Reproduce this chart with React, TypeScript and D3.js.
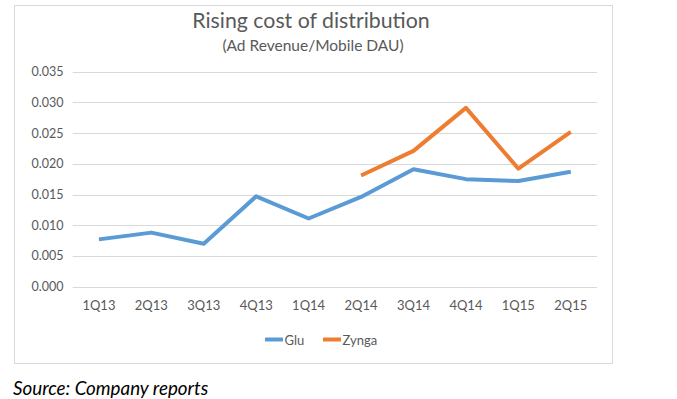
import React from "react";
import * as d3 from "d3";

const categories = ["1Q13", "2Q13", "3Q13", "4Q13", "1Q14", "2Q14", "3Q14", "4Q14", "1Q15", "2Q15"];
const gluValues: (number | null)[] = [0.0077, 0.0088, 0.0070, 0.0147, 0.0111, 0.0146, 0.0191, 0.0175, 0.0172, 0.0187];
const zyngaValues: (number | null)[] = [null, null, null, null, null, 0.0181, 0.0221, 0.0291, 0.0192, 0.0252];
const yTicks = [0, 0.005, 0.01, 0.015, 0.02, 0.025, 0.03, 0.035];
const seriesNames = ["Glu", "Zynga"];
const seriesColors = ["#5B9BD5", "#ED7D31"];

const FONT = "Lato, 'Open Sans', sans-serif";

export default function App() {
  const W = 677, H = 399;
  const left = 72.7, right = 597, top = 71.6, bottom = 286.7;
  const x = d3.scaleBand<string>().domain(categories).range([left, right]);
  const y = d3.scaleLinear().domain([0, 0.035]).range([bottom, top]);
  const line = d3
    .line<number | null>()
    .defined((d) => d !== null)
    .x((_, i) => (x(categories[i]) as number) + x.bandwidth() / 2)
    .y((d) => y(d as number));
  const series = [gluValues, zyngaValues];

  return (
    <svg width={W} height={H} style={{ position: "absolute", left: 0, top: 0, background: "#fff" }}>
      <rect x={14.5} y={5.5} width={598} height={358} fill="#fff" stroke="#D9D9D9" strokeWidth={1} />
      <text x={311} y={28} textAnchor="middle" fontFamily={FONT} fontSize={21.3} fill="#595959">
        Rising cost of distribution
      </text>
      <text x={313} y={50.5} textAnchor="middle" fontFamily={FONT} fontSize={15.5} fill="#595959">
        (Ad Revenue/Mobile DAU)
      </text>
      {yTicks.map((t) => (
        <g key={t}>
          <line x1={left} x2={right} y1={Math.round(y(t)) + 0.5} y2={Math.round(y(t)) + 0.5} stroke="#D9D9D9" strokeWidth={1} />
          <text x={63.5} y={y(t) + 4.5} textAnchor="end" fontFamily={FONT} fontSize={12.5} fill="#595959">
            {t.toFixed(3)}
          </text>
        </g>
      ))}
      {categories.map((c) => (
        <text key={c} x={(x(c) as number) + x.bandwidth() / 2} y={309.5} textAnchor="middle" fontFamily={FONT} fontSize={13} fill="#595959">
          {c}
        </text>
      ))}
      {series.map((s, i) => (
        <path key={i} d={line(s) || ""} fill="none" stroke={seriesColors[i]} strokeWidth={4} strokeLinejoin="round" strokeLinecap="butt" />
      ))}
      {seriesNames.map((n, i) => {
        const lx = 265 + i * 58;
        return (
          <g key={n}>
            <line x1={lx} x2={lx + 18} y1={339.5} y2={339.5} stroke={seriesColors[i]} strokeWidth={4} />
            <text x={lx + 19.5} y={344.5} fontFamily={FONT} fontSize={13} fill="#595959">
              {n}
            </text>
          </g>
        );
      })}
      <text x={13} y={395} fontFamily={FONT} fontStyle="italic" fontSize={18.8} fill="#000">
        Source: Company reports
      </text>
    </svg>
  );
}
